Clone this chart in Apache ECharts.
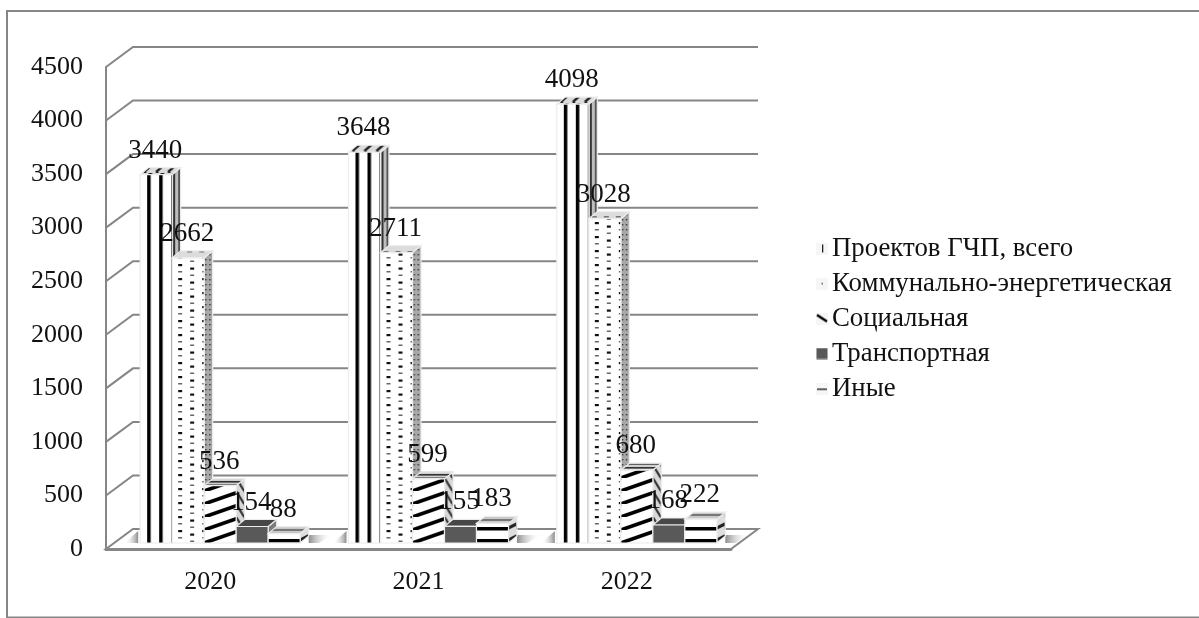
<!DOCTYPE html>
<html><head><meta charset="utf-8">
<style>html,body{margin:0;padding:0;background:#fff}#c{width:1199px;height:618px}</style>
<script src="https://cdn.jsdelivr.net/npm/echarts@6/dist/echarts.min.js"></script>
</head><body><div id="c"></div>
<script>
const categories = ['2020', '2021', '2022'];
const seriesNames = ['Проектов ГЧП, всего', 'Коммунально-энергетическая', 'Социальная', 'Транспортная', 'Иные'];
const total = [3440, 3648, 4098];
const communal = [2662, 2711, 3028];
const social = [536, 599, 680];
const transport = [154, 155, 168];
const other = [88, 183, 222];
const yTicks = [0, 500, 1000, 1500, 2000, 2500, 3000, 3500, 4000, 4500];
const allValues = [total, communal, social, transport, other];

const FONT = 'Liberation Serif';
const FS = 26;
const GREY = '#868686';

function tile(w, h, draw) {
  const c = document.createElement('canvas');
  c.width = w; c.height = h;
  const g = c.getContext('2d');
  draw(g, w, h);
  return { image: c, repeat: 'repeat' };
}
function bg(g, w, h, col) { g.fillStyle = col; g.fillRect(0, 0, w, h); }
function vbar(g, x, w, h, col) { g.fillStyle = col; g.fillRect(x, 0, w, h); }
function slant(g, w, h, col, lw) {
  g.strokeStyle = col; g.lineWidth = lw;
  for (let k = -1; k <= 1; k++) {
    g.beginPath(); g.moveTo(k * w, h); g.lineTo(k * w + w, 0); g.stroke();
  }
}
const skins = [
  {
    face: tile(12, 4, (g, w, h) => { bg(g, w, h, '#fff'); vbar(g, 7, 3.5, h, '#000'); }),
    side: tile(9, 4, (g, w, h) => { bg(g, w, h, '#bdbdbd'); vbar(g, 2, 2, h, '#555'); vbar(g, 6, 2, h, '#333'); }),
    top: tile(12, 7, (g, w, h) => { bg(g, w, h, '#dcdcdc'); g.strokeStyle = '#222'; g.lineWidth = 2.4; [[-8, 0], [4, 12]].forEach(a => { g.beginPath(); g.moveTo(a[0], h); g.lineTo(a[1], 0); g.stroke(); }); })
  },
  {
    face: tile(24, 14, (g, w, h) => {
      bg(g, w, h, '#fff');
      g.fillStyle = '#111'; g.fillRect(6, 1, 4, 2.2);
      g.fillStyle = '#666'; g.fillRect(6, 8, 4, 1.5);
      g.fillStyle = '#111'; g.fillRect(18, 4.5, 4, 2.2);
      g.fillStyle = '#666'; g.fillRect(18, 11.5, 4, 1.5);
    }),
    side: tile(4, 5, (g, w, h) => { bg(g, w, h, '#a8a8a8'); g.fillStyle = '#333'; g.fillRect(1, 1, 1.4, 1.4); }),
    top: tile(12, 7, (g, w, h) => { bg(g, w, h, '#dcdcdc'); g.fillStyle = '#777'; g.fillRect(3, 2, 5, 1.5); })
  },
  {
    face: tile(37, 13, (g, w, h) => { bg(g, w, h, '#fff'); slant(g, w, h, '#000', 3.6); }),
    side: tile(8, 13, (g, w, h) => {
      bg(g, w, h, '#d8d8d8'); g.strokeStyle = '#333'; g.lineWidth = 2.2;
      for (let k = -1; k <= 1; k++) { g.beginPath(); g.moveTo(k * w, 0); g.lineTo(k * w + w, h); g.stroke(); }
    }),
    top: tile(14, 7, (g, w, h) => { bg(g, w, h, '#cfcfcf'); g.fillStyle = '#333'; g.fillRect(0, 1, w, 1.6); g.fillRect(0, 4.5, w, 1.2); })
  },
  { face: '#595959', side: '#7d7d7d', top: '#474747' },
  {
    face: tile(4, 12, (g, w, h) => { bg(g, w, h, '#fff'); g.fillStyle = '#000'; g.fillRect(0, 8, w, 3.5); }),
    side: tile(8, 12, (g, w, h) => {
      bg(g, w, h, '#dedede'); g.strokeStyle = '#222'; g.lineWidth = 3;
      [-12, 0, 12].forEach(o => { g.beginPath(); g.moveTo(-2, 10 + o); g.lineTo(10, 4 + o); g.stroke(); });
    }),
    top: tile(4, 5, (g, w, h) => { bg(g, w, h, '#c8c8c8'); g.fillStyle = '#777'; g.fillRect(0, 1, w, 2); })
  }
];

function legendIcon(draw) {
  const c = document.createElement('canvas');
  c.width = 12; c.height = 12;
  const g = c.getContext('2d');
  g.fillStyle = '#f6f6f6'; g.fillRect(0, 0, 12, 12);
  draw(g);
  return 'image://' + c.toDataURL();
}
const legendIcons = [
  legendIcon(g => { g.fillStyle = '#222'; g.fillRect(6, 2, 1.3, 8); }),
  legendIcon(g => { g.fillStyle = '#555'; g.fillRect(5.5, 5.5, 1.5, 1.5); }),
  legendIcon(g => { g.strokeStyle = '#000'; g.lineWidth = 2.6; g.beginPath(); g.moveTo(1, 2.5); g.lineTo(11, 9); g.stroke(); }),
  legendIcon(g => { g.fillStyle = '#595959'; g.fillRect(0.5, 0.5, 11, 11); }),
  legendIcon(g => { g.fillStyle = '#222'; g.fillRect(1, 6, 10, 1.4); })
];

const DX = 27, DY = 20;
const BAR_W = 32, SDX = 8.5, SDY = 7, LIFT = 6, GROUP_L = 70, LABEL_UP = 24;

function shade(x1, x2, pts) {
  return {
    type: 'polygon', shape: { points: pts },
    style: {
      fill: { type: 'linear', x: x1, y: 0, x2: x2, y2: 0, global: true,
        colorStops: [{ offset: 0, color: '#8c8c8c' }, { offset: 1, color: 'rgba(255,255,255,0)' }] }
    }
  };
}
function renderWall(params, api) {
  const v = api.value(1);
  const p = api.coord([0, v]);
  const cs = params.coordSys;
  const l = cs.x, r = cs.x + cs.width, y = p[1];
  if (v === 0) {
    const kids = [{
      type: 'polygon',
      shape: { points: [[l, y], [r, y], [r + DX, y - DY], [l + DX, y - DY]] },
      style: { fill: '#fff', stroke: GREY, lineWidth: 2 }
    }];
    categories.forEach((c, j) => {
      const z = api.coord([j, 0]);
      const a = z[0] - GROUP_L, b = a + 5 * BAR_W + SDX;
      kids.push(shade(a - 2, a - 16, [[a - 2, y - 6], [a - 2, y - 18], [a - 16, y - 6]]));
      kids.push(shade(b, b + 24, [[b, y - 6], [b, y - 14], [b + 24, y - 14], [b + 10, y - 6]]));
    });
    return { type: 'group', children: kids };
  }
  return {
    type: 'polyline',
    shape: { points: [[l, y], [l + DX, y - DY], [r + DX, y - DY]] },
    style: { stroke: GREY, lineWidth: 2, fill: null }
  };
}

function makeBarRender(i) {
  return function (params, api) {
    const cat = api.value(0), val = api.value(1);
    const top = api.coord([cat, val]);
    const zero = api.coord([cat, 0]);
    const h = zero[1] - top[1];
    const w = BAR_W;
    const s = skins[i];
    const edge = { stroke: '#ececec', lineWidth: 1.2 };
    return {
      type: 'group',
      x: zero[0] - GROUP_L + i * BAR_W,
      y: zero[1] - LIFT,
      children: [
        { type: 'polygon', shape: { points: [[w, 0], [w + SDX, -SDY], [w + SDX, -h - SDY], [w, -h]] }, style: Object.assign({ fill: s.side }, edge) },
        { type: 'polygon', shape: { points: [[0, -h], [w, -h], [w + SDX, -h - SDY], [SDX, -h - SDY]] }, style: Object.assign({ fill: s.top }, edge) },
        { type: 'polygon', shape: { points: [[0, 0], [w, 0], [w, -h], [0, -h]] }, style: Object.assign({ fill: s.face }, edge) },
        {
          type: 'text', x: w / 2 - 1, y: -h - LABEL_UP, z2: 100,
          style: { text: String(val), fill: '#111', font: '27px "' + FONT + '"', align: 'center', verticalAlign: 'middle' }
        }
      ]
    };
  };
}

const series = [{
  type: 'custom', name: 'wall', silent: true, animation: false,
  data: yTicks.map(t => [0, t]),
  encode: { x: 0, y: 1 },
  renderItem: renderWall
}].concat(allValues.map((vals, i) => ({
  type: 'custom', name: seriesNames[i], animation: false,
  data: vals.map((v, j) => [j, v]),
  encode: { x: 0, y: 1 },
  renderItem: makeBarRender(i)
})));

const chart = echarts.init(document.getElementById('c'), null, { renderer: 'canvas' });
chart.setOption({
  animation: false,
  backgroundColor: '#fff',
  graphic: [{
    type: 'rect', z: -1, silent: true,
    shape: { x: 7, y: 11, width: 1300, height: 606.5 },
    style: { fill: '#fff', stroke: GREY, lineWidth: 2 }
  }],
  grid: { left: 106, right: 468, top: 67, bottom: 69, containLabel: false },
  xAxis: {
    type: 'category', data: categories,
    axisTick: { show: false },
    axisLine: { lineStyle: { color: GREY, width: 3 } },
    axisLabel: { color: '#111', fontFamily: FONT, fontSize: FS, margin: 20 }
  },
  yAxis: {
    type: 'value', min: 0, max: 4500, interval: 500,
    splitLine: { show: false },
    axisTick: { show: false },
    axisLine: { show: true, lineStyle: { color: GREY, width: 2 } },
    axisLabel: { color: '#111', fontFamily: FONT, fontSize: FS, margin: 23, formatter: v => String(v) }
  },
  legend: {
    orient: 'vertical', left: 811, top: 230, itemGap: 8,
    itemWidth: 12, itemHeight: 12, selectedMode: false,
    textStyle: { color: '#111', fontFamily: FONT, fontSize: 26.8, lineHeight: 26, padding: [0, 0, 0, -1] },
    data: seriesNames.map((n, i) => ({ name: n, icon: legendIcons[i] }))
  },
  series
});
</script></body></html>
